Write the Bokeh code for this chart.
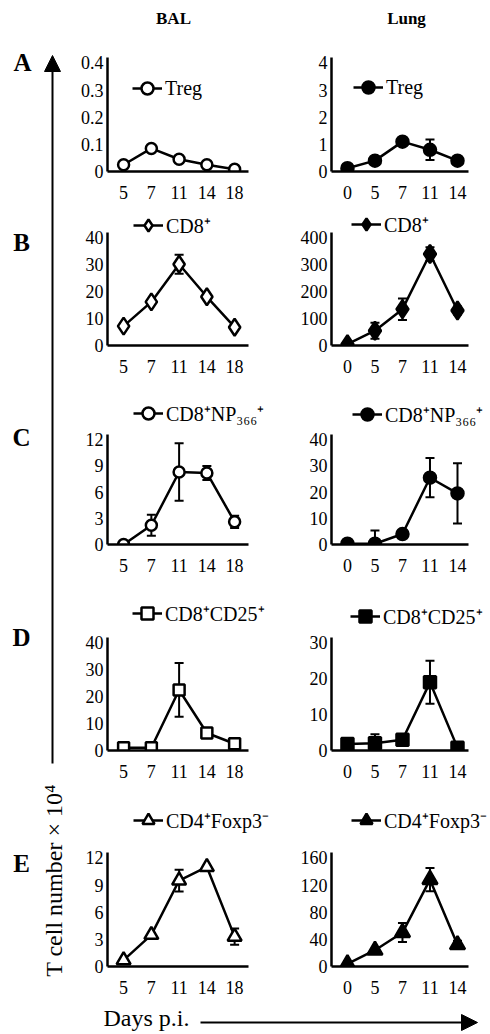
import numpy as np
from bokeh.plotting import figure
from bokeh.layouts import row, column
from bokeh.models import (Range1d, FixedTicker, Legend, LegendItem, Whisker, TeeHead,
                          ColumnDataSource, Arrow, NormalHead)
from bokeh.core.properties import value
from bokeh.embed import file_html
from bokeh.resources import INLINE

# ---------------- data ----------------
bal_days = ["5", "7", "11", "14", "18"]
lung_days = ["0", "5", "7", "11", "14"]

treg_bal = [0.025, 0.085, 0.045, 0.025, 0.008]
treg_bal_err = [0, 0, 0, 0, 0]
treg_lung = [0.12, 0.4, 1.1, 0.8, 0.4]
treg_lung_err = [0, 0, 0, 0.38, 0]

cd8_bal = [7.2, 16.2, 30.2, 18.1, 6.8]
cd8_bal_err = [0, 0, 3.5, 0, 0]
cd8_lung = [5, 55, 135, 340, 130]
cd8_lung_err = [0, 30, 40, 25, 15]

np_bal = [0, 2.2, 8.3, 8.2, 2.6]
np_bal_err = [0, 1.2, 3.3, 0.8, 0.7]
np_lung = [0.3, 0.3, 4, 25.5, 19.5]
np_lung_err = [0, 5, 0, 7.5, 11.5]

cd25_bal = [1, 1, 22.5, 6.5, 2.5]
cd25_bal_err = [0, 0, 10, 0, 0]
cd25_lung = [1.8, 2, 3, 19, 0.8]
cd25_lung_err = [0, 2.5, 0, 6, 0]

cd4_bal = [0.7, 3.5, 9.5, 11, 3.3]
cd4_bal_err = [0, 0, 1.2, 0, 0.9]
cd4_lung = [4, 24, 50, 128, 32]
cd4_lung_err = [0, 0, 14, 17, 6]

yt_treg_bal = [0, 0.1, 0.2, 0.3, 0.4]
yl_treg_bal = ["0", "0.1", "0.2", "0.3", "0.4"]
yt_treg_lung = [0, 1, 2, 3, 4]
yt_cd8_bal = [0, 10, 20, 30, 40]
yt_cd8_lung = [0, 100, 200, 300, 400]
yt_np_bal = [0, 3, 6, 9, 12]
yt_np_lung = [0, 10, 20, 30, 40]
yt_cd25_bal = [0, 10, 20, 30, 40]
yt_cd25_lung = [0, 10, 20, 30]
yt_cd4_bal = [0, 3, 6, 9, 12]
yt_cd4_lung = [0, 40, 80, 120, 160]

labels = ["Treg", "CD8\u207a", "CD8\u207aNP\u2083\u2086\u2086\u207a",
          "CD8\u207aCD25\u207a", "CD4\u207aFoxp3\u207b"]
col_titles = ["BAL", "Lung"]
row_letters = ["A", "B", "C", "D", "E"]
ylabel = "T cell number \u00d7 10\u2074"
xlabel = "Days p.i."

FONT = "Liberation Serif"
SERIF = value(FONT)

# ---------------- helpers ----------------
LEFTW = 66
# geometry: (fig_top, axis_top, axis_bottom, fig_bottom)
ROWS = [(40, 57, 171, 205), (205, 232, 345, 395), (395, 434, 544, 595),
        (595, 637, 750, 800), (800, 852, 966, 1000)]
# width: figure width, bl: left border, axis_w: x-axis length in px, xr: axis data range
COLS = {"BAL": dict(width=280 - LEFTW, bl=107 - LEFTW, axis_w=141, xr=(-0.58, 4.5)),
        "Lung": dict(width=210, bl=51, axis_w=137, xr=(-0.58, 4.4))}


def panel(vals, errs, days, yt, yl, marker, filled, label, r, c, leg, size):
    g = COLS[c]
    ft, ax_t, fr_b, fb = ROWS[r]
    ytop = yt[-1] * 1.05
    yend = ytop * (fr_b - ft) / (fr_b - ax_t)
    x0, x1 = g["xr"]
    frame_w = g["width"] - g["bl"]
    xend = x0 + (x1 - x0) * frame_w / g["axis_w"]
    p = figure(width=g["width"], height=fb - ft,
               min_border_left=g["bl"], min_border_right=0,
               min_border_top=0, min_border_bottom=fb - fr_b,
               x_range=Range1d(x0, xend), y_range=Range1d(0, yend),
               output_backend="svg", toolbar_location=None, tools="")
    p.outline_line_color = None
    p.grid.visible = False
    p.background_fill_color = None
    p.border_fill_color = None
    for ax in (p.xaxis[0], p.yaxis[0]):
        ax.axis_line_width = 2.5
        ax.axis_line_color = "black"
        ax.major_tick_out = 0
        ax.major_tick_in = 0
        ax.minor_tick_out = 0
        ax.minor_tick_in = 0
        ax.major_label_text_font = FONT
        ax.major_label_text_font_size = "18px"
        ax.major_label_text_color = "black"
    p.yaxis.bounds = (0, ytop)
    p.xaxis.bounds = (x0, x1)
    x = list(range(len(vals)))
    p.xaxis.ticker = FixedTicker(ticks=x)
    p.xaxis.major_label_overrides = {i: d for i, d in zip(x, days)}
    p.xaxis.major_label_standoff = 14
    p.yaxis.ticker = FixedTicker(ticks=yt)
    p.yaxis.major_label_overrides = {t: l for t, l in zip(yt, yl)}
    p.yaxis.major_label_standoff = 4

    xs = [xi for xi, e in zip(x, errs) if e > 0]
    up = [v + e for v, e in zip(vals, errs) if e > 0]
    lo = [v - e for v, e in zip(vals, errs) if e > 0]
    if xs:
        src = ColumnDataSource(dict(x=xs, upper=up, lower=lo))
        w = Whisker(source=src, base="x", upper="upper", lower="lower",
                    line_color="black", line_width=2,
                    upper_head=TeeHead(size=9, line_width=2, line_color="black"),
                    lower_head=TeeHead(size=9, line_width=2, line_color="black"))
        p.add_layout(w)
    lr = p.line(x, vals, line_color="black", line_width=2.5)
    sr = p.scatter(x, vals, marker=marker, size=size,
                   fill_color="black" if filled else "white",
                   line_color="black", line_width=2.5)
    lg = Legend(items=[LegendItem(label=label, renderers=[lr, sr])],
                location=leg, padding=0, margin=0, spacing=0,
                glyph_width=30, glyph_height=30, label_height=30,
                label_standoff=3, background_fill_alpha=0,
                border_line_color=None,
                label_text_font=FONT, label_text_font_size="20px",
                label_text_color="black")
    p.add_layout(lg)
    return p


def canvas(w, h):
    p = figure(width=w, height=h, x_range=Range1d(0, w), y_range=Range1d(h, 0),
               output_backend="svg", toolbar_location=None, tools="",
               min_border=0, x_axis_type=None, y_axis_type=None)
    p.outline_line_color = None
    p.background_fill_color = None
    p.border_fill_color = None
    return p


# ---------------- panels ----------------
specs = [
    (treg_bal, treg_bal_err, yt_treg_bal, yl_treg_bal, "circle", 11,
     treg_lung, treg_lung_err, yt_treg_lung, "circle", 12,
     (25, 68), (22, 69)),
    (cd8_bal, cd8_bal_err, yt_cd8_bal, None, "diamond", 17,
     cd8_lung, cd8_lung_err, yt_cd8_lung, "diamond", 18,
     (26, 105), (20, 106)),
    (np_bal, np_bal_err, yt_np_bal, None, "circle", 11,
     np_lung, np_lung_err, yt_np_lung, "circle", 12,
     (26, 116), (21, 115)),
    (cd25_bal, cd25_bal_err, yt_cd25_bal, None, "square", 11,
     cd25_lung, cd25_lung_err, yt_cd25_lung, "square", 12,
     (25, 122), (19, 119)),
    (cd4_bal, cd4_bal_err, yt_cd4_bal, None, "triangle", 14,
     cd4_lung, cd4_lung_err, yt_cd4_lung, "triangle", 15,
     (26, 131), (20, 131)),
]

# header
header = canvas(490 - LEFTW, 40)
header.text(x=[173 - LEFTW, 406 - LEFTW], y=[18, 18], text=col_titles, text_font=SERIF,
            text_font_style="bold", text_font_size="17px", text_align="center",
            text_baseline="middle", text_color="black")

rows = [header]
for r, s in enumerate(specs):
    (bv, be, byt, byl, bm, bs, lv, le, lyt, lm, ls, bleg, lleg) = s
    if byl is None:
        byl = [str(t) for t in byt]
    lyl = [str(t) for t in lyt]
    pb = panel(bv, be, bal_days, byt, byl, bm, False, labels[r], r, "BAL", bleg, bs)
    pl = panel(lv, le, lung_days, lyt, lyl, lm, True, labels[r], r, "Lung", lleg, ls)
    rows.append(row(pb, pl))

# left strip: letters, vertical arrow, y label
left = canvas(LEFTW, 1000)
left.text(x=[22, 21, 21, 21, 21], y=[62, 242, 437, 637, 863], text=row_letters,
          text_font=SERIF, text_font_style="bold", text_font_size="25px",
          text_align="center", text_baseline="middle", text_color="black")
left.add_layout(Arrow(x_start=52, y_start=763, x_end=52, y_end=55, line_width=2,
                      line_color="black",
                      end=NormalHead(size=16, fill_color="black", line_color="black")))
left.text(x=[53], y=[880], text=[ylabel], angle=np.pi / 2, text_font=SERIF,
          text_font_size="24px", text_align="center", text_baseline="middle",
          text_color="black")

# footer
footer = canvas(490, 34)
footer.text(x=[103], y=[17], text=[xlabel], text_font=SERIF, text_font_size="24px",
            text_align="left", text_baseline="middle", text_color="black")
footer.add_layout(Arrow(x_start=200, y_start=22, x_end=477, y_end=22, line_width=2,
                        line_color="black",
                        end=NormalHead(size=16, fill_color="black", line_color="black")))

layout = column(row(left, column(*rows)), footer)

open("out.html", "w").write(file_html(layout, INLINE))
